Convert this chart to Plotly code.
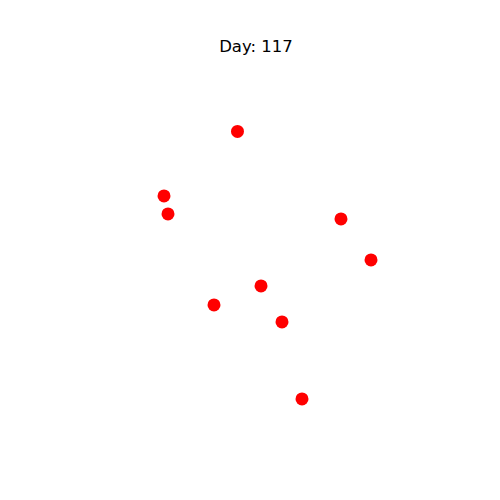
import plotly.graph_objects as go

x_vals = [0.4632, 0.2471, 0.2588, 0.7676, 0.8559, 0.5324, 0.3941, 0.5941, 0.6529]
y_vals = [0.9017, 0.7001, 0.6439, 0.6283, 0.5001, 0.4189, 0.3595, 0.3064, 0.0658]
title_text = "Day: 117"

fig = go.Figure(go.Scatter(x=x_vals, y=y_vals, mode="markers",
                           marker=dict(color="red", size=13, line=dict(width=0))))
fig.update_layout(
    width=500, height=500,
    margin=dict(l=80, r=80, t=100, b=80),
    paper_bgcolor="white", plot_bgcolor="white",
    title=dict(text=title_text, x=256/500, xanchor="center", y=1 - 46/500, yanchor="middle",
               font=dict(family="DejaVu Sans", size=16.5, color="black")),
    xaxis=dict(range=[0, 1], visible=False),
    yaxis=dict(range=[0, 1], visible=False),
    showlegend=False,
)
fig.write_html("out.html")
